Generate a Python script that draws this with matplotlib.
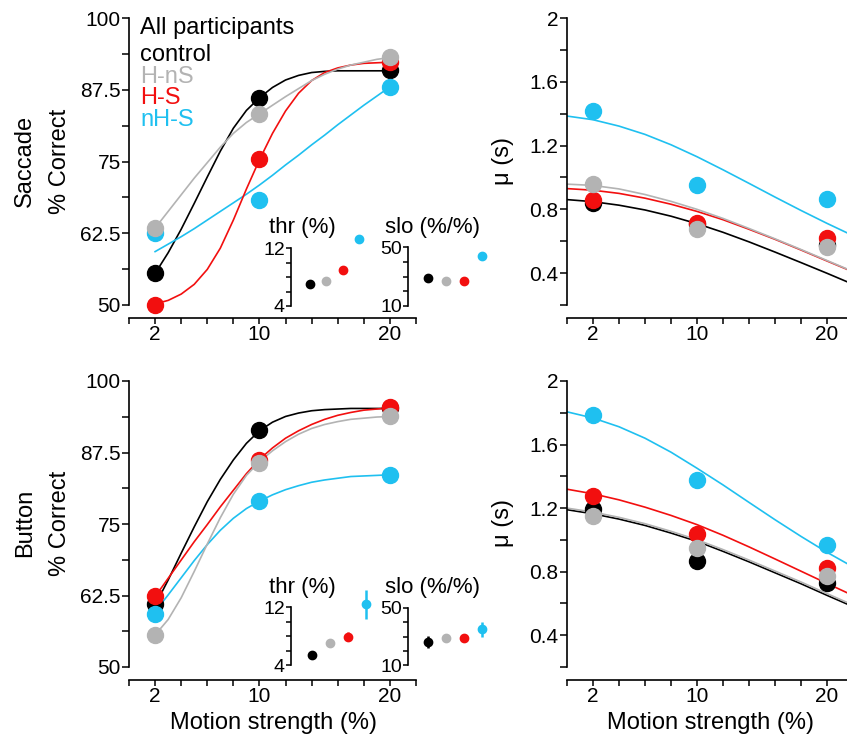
import matplotlib as mpl
from matplotlib import pyplot as plt

mpl.rcParams['font.family'] = ['Liberation Sans', 'DejaVu Sans']

# groups and colours
groups = ['control', 'H-nS', 'H-S', 'nH-S']
colors = ['#000000', '#b3b3b3', '#f20f0f', '#1fc0f0']
draw_order = [0, 3, 2, 1]

# motion strength (%) of the measured points
coh = [2, 10, 20]

# ---- accuracy (% correct), measured points ----
sac_acc = [[55.5, 86.1, 90.9],
           [63.4, 83.2, 93.2],
           [50.0, 75.4, 92.4],
           [62.5, 68.3, 87.9]]
but_acc = [[61.1, 91.5, 95.2],
           [55.6, 85.6, 93.8],
           [62.5, 86.2, 95.5],
           [59.2, 79.0, 83.6]]

# fitted accuracy curves
acc_fit_x = [2, 3, 4, 5, 6, 7, 8, 9, 10, 11, 12, 13, 14, 15, 16, 17, 18, 19, 20]
sac_acc_fit = [
    [55.5, 59.1, 63.2, 67.7, 72.3, 76.8, 80.8, 83.9, 86.1, 87.9, 89.2, 90.0, 90.5, 90.7, 90.8, 90.8, 90.8, 90.8, 90.8],
    [63.4, 66.3, 69.2, 72.1, 74.8, 77.5, 79.9, 81.8, 83.3, 84.8, 86.3, 87.7, 89.1, 90.2, 91.1, 91.8, 92.3, 92.8, 93.1],
    [50.2, 50.8, 51.9, 53.6, 56.2, 59.9, 64.8, 70.2, 75.3, 79.9, 83.8, 86.9, 89.1, 90.5, 91.3, 91.8, 92.1, 92.2, 92.3],
    [59.3, 60.6, 61.9, 63.3, 64.8, 66.3, 67.8, 69.3, 70.9, 72.6, 74.4, 76.1, 77.9, 79.6, 81.4, 83.1, 84.8, 86.4, 88.0]]
but_acc_fit = [
    [60.8, 65.2, 69.9, 74.5, 78.9, 82.8, 86.2, 89.1, 91.3, 92.8, 93.8, 94.4, 94.8, 95.0, 95.1, 95.2, 95.2, 95.2, 95.2],
    [55.6, 58.3, 62.1, 66.7, 71.5, 76.1, 80.2, 83.5, 85.9, 87.8, 89.4, 90.7, 91.7, 92.4, 92.9, 93.3, 93.5, 93.7, 93.8],
    [62.3, 65.5, 68.7, 71.9, 74.9, 78.0, 80.9, 83.8, 86.3, 88.3, 90.0, 91.3, 92.4, 93.3, 94.0, 94.5, 94.9, 95.1, 95.3],
    [59.7, 62.6, 65.6, 68.6, 71.4, 73.9, 76.0, 77.7, 79.0, 80.1, 81.0, 81.7, 82.3, 82.7, 83.0, 83.3, 83.4, 83.5, 83.6]]

# ---- mean decision time mu (s) ----
sac_mu = [[0.840, 0.705, 0.575],
          [0.961, 0.678, 0.563],
          [0.861, 0.714, 0.619],
          [1.417, 0.951, 0.863]]
but_mu = [[1.194, 0.870, 0.726],
          [1.148, 0.949, 0.772],
          [1.277, 1.037, 0.820],
          [1.785, 1.378, 0.968]]

mu_fit_x = [0, 2, 4, 6, 8, 10, 12, 14, 16, 18, 20, 22]
sac_mu_fit = [
    [0.861, 0.848, 0.826, 0.796, 0.757, 0.710, 0.656, 0.596, 0.532, 0.466, 0.399, 0.330],
    [0.958, 0.950, 0.928, 0.893, 0.850, 0.800, 0.743, 0.680, 0.615, 0.548, 0.479, 0.410],
    [0.930, 0.920, 0.900, 0.870, 0.832, 0.787, 0.735, 0.675, 0.612, 0.545, 0.476, 0.408],
    [1.385, 1.362, 1.322, 1.270, 1.205, 1.130, 1.048, 0.963, 0.877, 0.793, 0.712, 0.635]]
but_mu_fit = [
    [1.190, 1.164, 1.131, 1.091, 1.043, 0.991, 0.928, 0.862, 0.793, 0.724, 0.651, 0.580],
    [1.200, 1.175, 1.142, 1.102, 1.054, 1.001, 0.939, 0.873, 0.804, 0.735, 0.662, 0.590],
    [1.319, 1.290, 1.252, 1.206, 1.154, 1.096, 1.029, 0.956, 0.880, 0.803, 0.726, 0.650],
    [1.806, 1.767, 1.712, 1.640, 1.552, 1.451, 1.346, 1.236, 1.127, 1.022, 0.922, 0.830]]

# ---- inset parameters: threshold and slope (mean, error) ----
sac_thr = [7.0, 7.5, 9.0, 13.3]
sac_thr_err = [0.45, 0.4, 0.3, 0.35]
sac_slo = [28.9, 26.9, 26.9, 44.0]
sac_slo_err = [1.0, 1.0, 1.0, 1.0]
but_thr = [5.4, 7.1, 7.9, 12.4]
but_thr_err = [0.4, 0.2, 0.6, 2.0]
but_slo = [26.1, 28.9, 29.2, 35.0]
but_slo_err = [4.0, 1.0, 1.5, 5.0]

# tick labels
xticks = [0, 2, 4, 6, 8, 10, 12, 14, 16, 18, 20, 22]
xticklabels = ['', '2', '', '', '', '10', '', '', '', '', '20', '']
acc_ticks = [50, 56.25, 62.5, 68.75, 75, 81.25, 87.5, 93.75, 100]
acc_ticklabels = ['50', '', '62.5', '', '75', '', '87.5', '', '100']
mu_ticks = [0.2, 0.4, 0.6, 0.8, 1.0, 1.2, 1.4, 1.6, 1.8, 2.0]
mu_ticklabels = ['', '0.4', '', '0.8', '', '1.2', '', '1.6', '', '2']
thr_ticks = [4, 6, 8, 10, 12]
thr_ticklabels = ['4', '', '', '', '12']
slo_ticks = [10, 20, 30, 40, 50]
slo_ticklabels = ['10', '', '', '', '50']

W, H = 847, 736
fig = plt.figure(figsize=(W / 100, H / 100), dpi=100)


def box(left, top, right, bottom):
    '''Pixel box -> figure fraction rect'''
    return [left / W, 1 - bottom / H, (right - left) / W, (bottom - top) / H]


def main_axes(rect, ylim, yt, ytl):
    ax = fig.add_axes(box(*rect))
    ax.patch.set_visible(False)
    ax.set_xlim(0, 22)
    ax.set_ylim(ylim)
    ax.spines['top'].set_visible(False)
    ax.spines['right'].set_visible(False)
    ax.spines['bottom'].set_position(('outward', 9.4))
    for s in ['left', 'bottom']:
        ax.spines[s].set_linewidth(1.2)
    ax.set_xticks(xticks)
    ax.set_xticklabels(xticklabels)
    ax.set_yticks(yt)
    ax.set_yticklabels(ytl)
    ax.tick_params(direction='out', width=1.1, labelsize=15)
    ax.tick_params(axis='x', length=4, pad=1)
    ax.tick_params(axis='y', length=5, pad=1)
    return ax


def draw_panel(ax, fit_x, fits, points):
    for i in draw_order:
        ax.plot(fit_x, fits[i], color=colors[i], lw=1.2, zorder=2)
    for i in draw_order:
        ax.plot(coh, points[i], 'o', ms=11.5, color=colors[i], zorder=3, clip_on=False)


def inset(rect, vals, errs, ylim, yt, ytl, title, title_xy):
    ax = fig.add_axes(box(*rect))
    ax.patch.set_visible(False)
    ax.set_xlim(-0.15, 4.3)
    ax.set_ylim(ylim)
    for s in ['top', 'right', 'bottom']:
        ax.spines[s].set_visible(False)
    ax.spines['left'].set_linewidth(1.2)
    ax.set_xticks([])
    ax.set_yticks(yt)
    ax.set_yticklabels(ytl)
    ax.tick_params(direction='out', length=3.5, width=1.1, labelsize=14, pad=1)
    for i in range(4):
        ax.errorbar([i + 1], [vals[i]], yerr=[errs[i]], fmt='o', ms=6, color=colors[i],
                    elinewidth=1.8, capsize=0, clip_on=False)
    fig.text(title_xy[0] / W, 1 - title_xy[1] / H, title, ha='center', va='center', fontsize=16)


# Saccade accuracy
ax = main_axes((129, 18, 416, 305), (50, 100), acc_ticks, acc_ticklabels)
draw_panel(ax, acc_fit_x, sac_acc_fit, sac_acc)
inset((291, 248, 364, 306), sac_thr, sac_thr_err, (4, 12), thr_ticks, thr_ticklabels, 'thr (%)', (302, 228))
inset((408, 247, 487, 306), sac_slo, sac_slo_err, (10, 50), slo_ticks, slo_ticklabels, 'slo (%/%)', (432, 228))

# Button accuracy
ax = main_axes((129, 381, 416, 667), (50, 100), acc_ticks, acc_ticklabels)
draw_panel(ax, acc_fit_x, but_acc_fit, but_acc)
inset((291, 607, 371, 665), but_thr, but_thr_err, (4, 12), thr_ticks, thr_ticklabels, 'thr (%)', (302, 588))
inset((408, 608, 487, 665), but_slo, but_slo_err, (10, 50), slo_ticks, slo_ticklabels, 'slo (%/%)', (432, 588))

# decision times
ax = main_axes((567, 18, 853, 305), (0.2, 2.0), mu_ticks, mu_ticklabels)
draw_panel(ax, mu_fit_x, sac_mu_fit, sac_mu)
ax = main_axes((567, 381, 853, 667), (0.2, 2.0), mu_ticks, mu_ticklabels)
draw_panel(ax, mu_fit_x, but_mu_fit, but_mu)

# legend as coloured text
fig.text(140 / W, 1 - 28 / H, 'All participants', fontsize=17, va='center')
legend_y = [55, 77, 98, 120]
for i, g in enumerate(groups):
    fig.text(140 / W, 1 - legend_y[i] / H, g, fontsize=17, va='center', color=colors[i])

# axis labels
for yc, row in [(161, 'Saccade'), (523, 'Button')]:
    fig.text(25 / W, 1 - yc / H, row, rotation=90, ha='center', va='center', fontsize=17)
    fig.text(60 / W, 1 - yc / H, '% Correct', rotation=90, ha='center', va='center', fontsize=17)
    fig.text(503 / W, 1 - yc / H, 'μ (s)', rotation=90, ha='center', va='center', fontsize=17)
fig.text(273 / W, 1 - 723 / H, 'Motion strength (%)', ha='center', va='center', fontsize=17)
fig.text(710 / W, 1 - 723 / H, 'Motion strength (%)', ha='center', va='center', fontsize=17)

plt.savefig('out.png', dpi=100)
